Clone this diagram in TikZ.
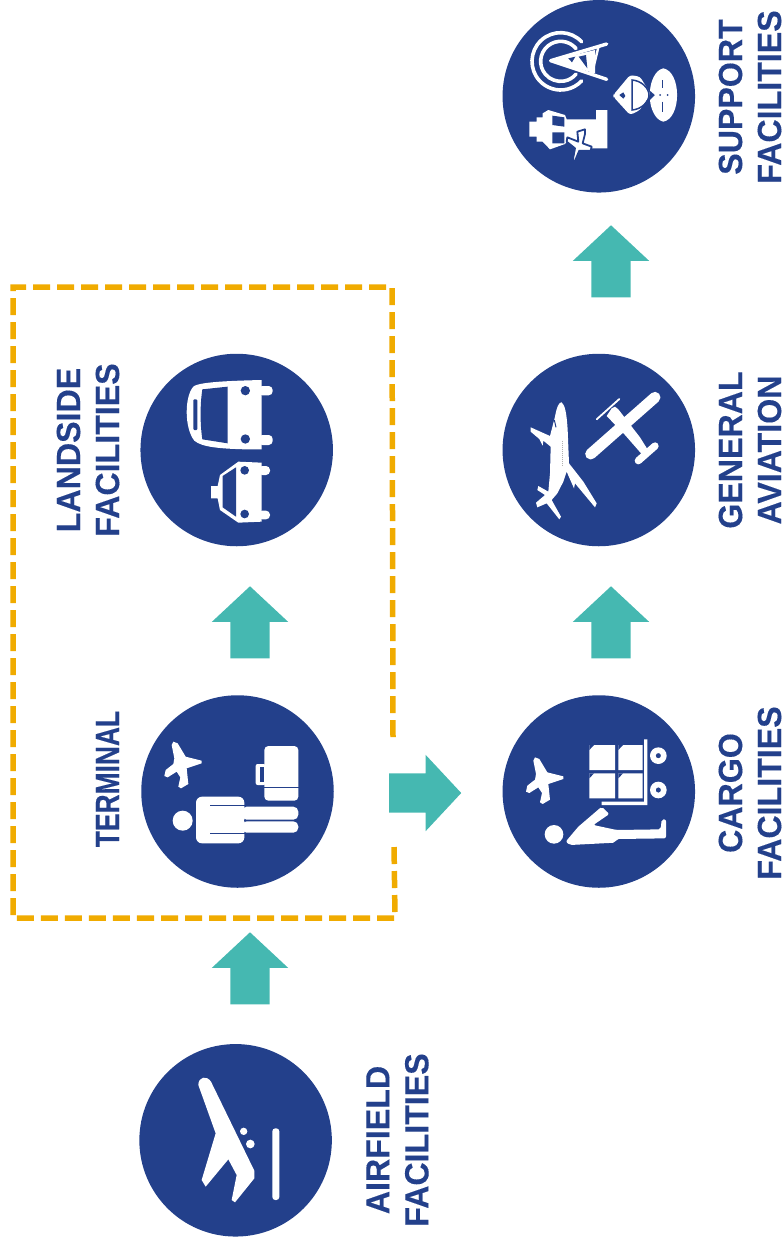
\documentclass[tikz,border=0pt]{standalone}
\usepackage{fontspec}
\usepackage{graphicx}
\setmainfont{Liberation Sans}[FakeStretch=0.96,BoldFeatures={FakeBold=0.25,FakeStretch=0.96}]
\usetikzlibrary{shapes.arrows}
\definecolor{navy}{HTML}{23408B}
\definecolor{tealc}{HTML}{45B8B1}
\definecolor{amber}{HTML}{F0AB00}
\tikzset{
  disc/.style={circle,fill=navy,inner sep=0,minimum size=#1},
  disc/.default=192.5pt,
  blockarrow/.style={single arrow,fill=tealc,inner xsep=0,inner ysep=19.5pt,minimum height=72pt,minimum width=76pt,
    single arrow head extend=18.5pt,single arrow tip angle=94,anchor=tip},
  lab/.style={text=navy,font=\fontsize{33.5pt}{39pt}\selectfont\bfseries,align=center,rotate=90,inner sep=0},
  wh/.style={fill=white,draw=none},
  bl/.style={fill=navy,draw=none},
  wline/.style={draw=white,line cap=round},
  bline/.style={draw=navy},
  icon/.style={scale=0.33333}
}
\newcommand{\planeshape}{(200,212) -- (152,200) -- (128,160) -- (115,155) -- (110,165) -- (118,205) -- (115,222) -- (92,240) -- (88,258) -- (98,262) -- (125,245) -- (136,262) -- (130,290) -- (138,295) -- (160,282) -- (155,235) -- (200,220) -- cycle}
\begin{document}
\begin{tikzpicture}[x=1pt,y=-1pt]
\useasboundingbox (0,0) rectangle (783,1243);
% dashed frame
\coordinate (fa) at (393,737);
\coordinate (fb) at (392,287);
\coordinate (fc) at (13,287);
\coordinate (fd) at (13,918);
\coordinate (fe) at (395,918);
\coordinate (ff) at (394,843);
\draw[amber,line width=5.5pt,dash pattern=on 17pt off 7pt] (fa) -- (fb) -- (fc) -- (fd) -- (fe) -- (ff);
% discs
\node[disc] (support) at (598.8,96.3) {};
\node[disc] (general) at (598.8,450) {};
\node[disc] (cargo) at (598.8,791.5) {};
\node[disc] (terminal) at (237.5,791.5) {};
\node[disc] (landside) at (236.7,450) {};
\node[disc] (airfield) at (235.6,1140.3) {};
% arrows
\node[blockarrow,rotate=90] (a1) at (250,932) {};
\node[blockarrow,rotate=90] (a2) at (250,586) {};
\node[blockarrow] (a3) at (461.5,793) {};
\node[blockarrow,rotate=90] (a4) at (611,586) {};
\node[blockarrow,rotate=90] (a5) at (611,225) {};
% labels
\node[lab] (tsupport) at (750,97) {SUPPORT\\FACILITIES};
\node[lab] (tgeneral) at (750,450) {GENERAL\\AVIATION};
\node[lab] (tcargo) at (750,793) {CARGO\\FACILITIES};
\node[lab] (tlandside) at (88,450) {LANDSIDE\\FACILITIES};
\node[lab] (tterminal) at (107.5,779) {\scalebox{0.82}[1]{TERMINAL}};
\node[lab] (tairfield) at (397.5,1140) {AIRFIELD\\FACILITIES};
% airfield icon
\begin{scope}[shift={(135,1040)},icon]
\fill[wh] (190,135) .. controls (190,110) and (215,105) .. (228,125) -- (358,392) -- (358,415) -- (300,487) -- (290,480) -- (305,405) -- (280,358) -- (212,440) -- (200,420) -- (242,280) -- cycle;
\fill[wh] (326,274) circle[radius=11] (346,312) circle[radius=13];
\fill[wh,rounded corners=3pt] (412,265) rectangle (433,480);
\end{scope}
% landside icon
\begin{scope}[shift={(135,350)},icon]
\fill[wh,rounded corners=4pt] (370,108) rectangle (413,136);
\fill[wh,rounded corners=4pt] (370,255) rectangle (413,285);
\fill[wh] (380,90) -- (380,298) -- (330,298) .. controls (260,296) and (200,292) .. (178,272) .. controls (148,235) and (148,140) .. (175,110) .. controls (190,95) and (300,92) .. (380,90) -- cycle;
\fill[bl] (202,118) -- (278,110) -- (278,280) -- (202,268) .. controls (195,220) and (195,165) .. (202,118) -- cycle;
\fill[bl,rounded corners=1pt] (175,148) rectangle (187,240);
\fill[bl] (331,122) circle[radius=14] (331,267) circle[radius=14];
\fill[wh,rounded corners=4pt] (370,348) rectangle (405,375);
\fill[wh,rounded corners=4pt] (370,482) rectangle (405,508);
\fill[wh] (380,338) -- (380,515) -- (310,518) -- (255,480) -- (248,445) -- (228,445) -- (228,408) -- (248,408) -- (255,375) -- (310,335) -- cycle;
\fill[bl] (263,378) -- (303,352) -- (303,500) -- (263,472) -- cycle;
\fill[bl] (329,361) circle[radius=13] (329,492) circle[radius=13];
\end{scope}
% terminal icon
\begin{scope}[shift={(135,690)},icon]
\fill[wh] \planeshape;
\fill[wh] (143,392) circle[radius=30];
\fill[wh,rounded corners=6pt] (183,320) rectangle (328,460);
\fill[wh,rounded corners=5pt] (320,350) rectangle (490,389);
\fill[wh,rounded corners=5pt] (320,394) rectangle (490,428);
\draw[bline,line width=1.6pt] (225,347) -- (330,347) (225,431) -- (330,431) (328,391.5) -- (335,391.5);
\fill[wh,rounded corners=4pt] (388,168) rectangle (490,332);
\draw[bline,line width=1.6pt] (386,293) -- (492,293);
\fill[wh,rounded corners=2pt] (362,222) rectangle (392,285);
\fill[bl] (374,232) rectangle (388,275);
\end{scope}
% cargo icon
\begin{scope}[shift={(500,690)},icon]
\begin{scope}[shift={(-10,47)}]
\fill[wh] \planeshape;
\end{scope}
\fill[wh] (162,433) circle[radius=28];
\fill[wh,rounded corners=2pt] (197,455) -- (235,410) -- (305,350) -- (328,372) -- (280,405) -- (350,420) -- (482,418) -- (485,388) -- (498,388) -- (498,445) -- (350,447) -- (345,458) -- (210,465) -- cycle;
\fill[wh] (268,165) rectangle (345,240) (355,165) rectangle (428,240) (268,250) rectangle (345,325) (355,250) rectangle (428,325);
\fill[bl] (268,165) -- (282,165) -- (268,180) -- cycle (355,165) -- (369,165) -- (355,180) -- cycle (268,250) -- (282,250) -- (268,265) -- cycle (355,250) -- (369,250) -- (355,265) -- cycle;
\fill[wh] (432,148) -- (442,148) -- (442,345) -- (305,345) -- (305,335) -- (432,335) -- cycle;
\fill[wh,even odd rule] (475,197) circle[radius=25] (475,197) circle[radius=8];
\fill[wh,even odd rule] (475,300) circle[radius=25] (475,300) circle[radius=8];
\end{scope}
% general aviation icon
\begin{scope}[shift={(500,350)},icon]
\fill[wh] (165,200) .. controls (170,170) and (178,155) .. (185,157) .. controls (195,165) and (200,190) .. (203,240) -- (207,340) -- (250,395) -- (290,460) -- (285,472) -- (225,400) -- (222,415) -- (200,365) -- (190,395) -- (172,430) -- (155,450) -- (183,500) -- (178,508) -- (140,460) -- (112,472) -- (108,458) -- (135,435) -- (112,420) -- (115,408) -- (145,425) -- (150,370) -- (152,290) -- (130,272) -- (128,287) -- (118,267) -- (92,245) -- (92,232) -- (150,258) -- cycle;
\draw[bline,line width=1pt] (163,210) -- (168,232);
\draw[draw=gray!60,line width=0.8pt,dash pattern=on 1pt off 1pt] (187,272) -- (187,350);
\draw[wline,line width=11pt] (272,312) -- (465,142);
\fill[wh] (320,198) -- (335,175) -- (345,170) -- (355,178) -- (420,262) -- (447,305) -- (432,320) -- (375,255) -- cycle;
\draw[wline,line width=7.3pt] (415,332) -- (465,288);
\draw[wline,line width=1.8pt] (290,208) -- (358,147);
\end{scope}
% support icon
\begin{scope}[shift={(500,0)},icon]
\draw[white,line width=3.6pt,line cap=round] (182,184) ++(-43:86) arc[start angle=-43,end angle=-317,radius=86];
\draw[white,line width=3.6pt,line cap=round] (182,184) ++(-40:60) arc[start angle=-40,end angle=-320,radius=60];
\fill[wh] (152,182) -- (285,150) -- (285,220) -- cycle;
\draw[wline,line width=3.4pt] (152,182) -- (320,132) (152,182) -- (320,238);
\draw[wline,line width=2.4pt] (295,142) -- (275,225);
\fill[bl] (205,175) -- (226,170) -- (216,187) -- cycle (236,170) -- (258,165) -- (262,205) -- cycle;
% worker
\fill[wh] (490,205) .. controls (545,215) and (545,355) .. (490,365) .. controls (465,360) and (452,325) .. (450,300) -- (465,285) -- (450,272) .. controls (452,245) and (465,210) .. (490,205) -- cycle;
\fill[wh,rounded corners=3pt] (340,285) -- (390,225) -- (420,230) -- (452,282) -- (420,330) -- (390,345) -- (340,290) -- cycle;
\draw[bline,line width=1.5pt] (396,240) -- (396,330) .. controls (425,328) and (447,305) .. (447,285) .. controls (447,265) and (425,242) .. (396,240) -- cycle;
\fill[bl] (358,285) -- (370,277) -- (376,288) -- (370,296) -- cycle;
\draw[bline,line width=1pt] (487,240) -- (487,265) (487,305) -- (487,335);
\fill[bl] (480,285) circle[radius=3] (503,285) circle[radius=3];
% control tower
\fill[wh] (88,365) -- (110,365) -- (110,352) -- (128,352) -- (128,340) -- (145,330) -- (195,345) -- (200,358) -- (288,358) -- (288,330) -- (322,330) -- (322,445) -- (250,445) -- (200,425) -- (195,432) -- (150,448) -- (128,425) -- (110,425) -- (110,410) -- (88,410) -- cycle;
\fill[bl] (157,347) -- (193,352) -- (193,380) -- (157,375) -- cycle (157,397) -- (193,397) -- (193,430) -- (157,430) -- cycle;
\fill[wh,draw=navy,line width=1.8pt,line join=round] (218,482) -- (225,445) -- (200,425) -- (202,412) -- (235,425) -- (232,395) -- (255,388) -- (255,402) -- (248,430) -- (275,440) -- (272,452) -- (238,452) -- (225,482) -- cycle;
\end{scope}
\end{tikzpicture}
\end{document}
